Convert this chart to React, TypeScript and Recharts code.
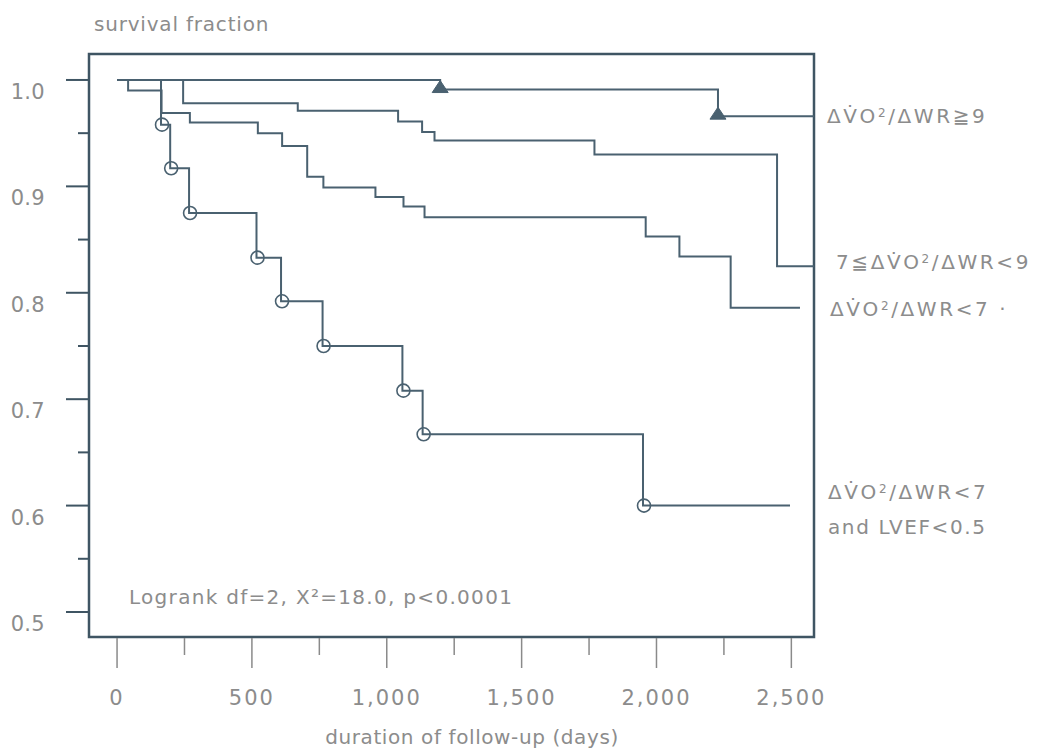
import React from 'react';
import { LineChart, Line, XAxis, YAxis, ReferenceArea, ReferenceDot } from 'recharts';

// Kaplan–Meier survival by ΔVO2/ΔWR group (days of follow-up, survival fraction)
const highDays = [0, 1198, 2228, 2584];
const highSurv = [1.0, 0.991, 0.966, 0.966];

const midDays = [0, 245, 670, 1042, 1131, 1177, 1770, 2447, 2584];
const midSurv = [1.0, 0.978, 0.971, 0.961, 0.951, 0.943, 0.93, 0.825, 0.825];

const lowDays = [0, 41, 165, 270, 522, 612, 705, 765, 958, 1062, 1140, 1960, 2085, 2275, 2532];
const lowSurv = [1.0, 0.99, 0.969, 0.96, 0.95, 0.938, 0.909, 0.899, 0.89, 0.881, 0.871, 0.853, 0.834, 0.786, 0.786];

const lvefDays = [0, 163, 197, 267, 517, 608, 762, 1058, 1133, 1950, 2495];
const lvefSurv = [1.0, 0.958, 0.917, 0.875, 0.833, 0.792, 0.75, 0.708, 0.667, 0.6, 0.6];

const xTicks = [0, 250, 500, 750, 1000, 1250, 1500, 1750, 2000, 2250, 2500];
const xTickLabels: Record<number, string> = { 0: '0', 500: '500', 1000: '1,000', 1500: '1,500', 2000: '2,000', 2500: '2,500' };
const yTicks = [0.5, 0.55, 0.6, 0.65, 0.7, 0.75, 0.8, 0.85, 0.9, 0.95, 1.0];
const yTickLabels = ['0.5', '0.6', '0.7', '0.8', '0.9', '1.0'];

const xDomain: [number, number] = [-104, 2584];
const yDomain: [number, number] = [0.4765, 1.0244];

const LINE = '#4a6170';
const FRAME = '#3f5563';
const TEXT = '#8c8c8c';
const FONT = '"DejaVu Sans", sans-serif';

const toRows = (days: number[], surv: number[]) => days.map((d, i) => ({ d, s: surv[i] }));

const highData = toRows(highDays, highSurv);
const midData = toRows(midDays, midSurv);
const lowData = toRows(lowDays, lowSurv);
const lvefData = toRows(lvefDays, lvefSurv);

const isStep = (data: { s: number }[], i: number) => i > 0 && data[i].s !== data[i - 1].s;

const triangleDot = (props: any) => {
  const { cx, cy, index } = props;
  if (!isStep(highData, index)) return <g key={`t-${index}`} />;
  return (
    <path
      key={`t-${index}`}
      d={`M${cx - 8},${cy + 3} L${cx + 8},${cy + 3} L${cx},${cy - 9} Z`}
      fill={LINE}
      stroke={LINE}
      strokeWidth={1}
    />
  );
};

const circleDot = (props: any) => {
  const { cx, cy, index } = props;
  if (!isStep(lvefData, index)) return <g key={`c-${index}`} />;
  return <circle key={`c-${index}`} cx={cx + 1} cy={cy} r={6.5} fill="none" stroke={LINE} strokeWidth={1.6} />;
};

const XTick = (props: any) => {
  const { x, y, payload } = props;
  const v = payload.value as number;
  const label = xTickLabels[v];
  const major = label !== undefined;
  return (
    <g>
      <line x1={x} y1={y + 1} x2={x} y2={y + (major ? 31 : 18)} stroke="#8a8a8a" strokeWidth={1.5} />
      {major && (
        <text x={x} y={y + 61} textAnchor="middle" dominantBaseline="central" fill={TEXT}
          fontFamily={FONT} fontSize={21} letterSpacing={2}>
          {label}
        </text>
      )}
    </g>
  );
};

const YTick = (props: any) => {
  const { x, y, payload } = props;
  const v = payload.value as number;
  const major = Math.abs(v * 10 - Math.round(v * 10)) < 1e-6;
  const label = major ? yTickLabels[Math.round(v * 10) - 5] : null;
  return (
    <g>
      <line x1={x - (major ? 23 : 11)} y1={y} x2={x} y2={y} stroke={FRAME} strokeWidth={2} />
      {label && (
        <text x={x - 44} y={y + 12} textAnchor="end" dominantBaseline="central" fill={TEXT}
          fontFamily={FONT} fontSize={21} letterSpacing={0.3}>
          {label}
        </text>
      )}
    </g>
  );
};

const XTitle = (props: any) => {
  const { viewBox } = props;
  return (
    <text x={viewBox.x + 383} y={viewBox.y + 100} textAnchor="middle" dominantBaseline="central"
      fill={TEXT} fontFamily={FONT} fontSize={20} letterSpacing={0.6}>
      duration of follow-up (days)
    </text>
  );
};

const YTitle = (props: any) => {
  const { viewBox } = props;
  return (
    <text x={viewBox.x + viewBox.width + 5} y={viewBox.y - 30} textAnchor="start" dominantBaseline="central"
      fill={TEXT} fontFamily={FONT} fontSize={20} letterSpacing={0.8}>
      survival fraction
    </text>
  );
};

// Group name: ΔV̇O2/ΔWR followed by the range condition
const Ratio = () => (
  <>
    <tspan>ΔV̇O</tspan>
    <tspan fontSize={12} dy={-3}>2</tspan>
    <tspan dy={3}>/ΔWR</tspan>
  </>
);

const SeriesLabel = (props: any) => {
  const { viewBox, dx, dy, prefix, suffix, second } = props;
  const x = viewBox.x + dx;
  const y = viewBox.y + dy;
  return (
    <g fill={TEXT} fontFamily={FONT} fontSize={20} letterSpacing={2.6}>
      <text x={x} y={y} dominantBaseline="central">
        {prefix && <tspan>{prefix}</tspan>}
        <Ratio />
        <tspan>{suffix}</tspan>
      </text>
      {second && (
        <text x={x} y={y + 35} dominantBaseline="central" letterSpacing={1.6}>{second}</text>
      )}
    </g>
  );
};

const LogrankLabel = (props: any) => {
  const { viewBox } = props;
  return (
    <text x={viewBox.x} y={viewBox.y} dominantBaseline="central" fill={TEXT}
      fontFamily={FONT} fontSize={20} letterSpacing={1.3}>
      Logrank df=2, X²=18.0, p&lt;0.0001
    </text>
  );
};

export default function App() {
  return (
    <LineChart width={1028} height={743} margin={{ top: 46, right: 222, bottom: 14, left: 0 }}>
      <XAxis
        dataKey="d"
        type="number"
        domain={xDomain}
        allowDataOverflow
        ticks={xTicks}
        interval={0}
        axisLine={false}
        tickLine={false}
        tickSize={0}
        tickMargin={0}
        height={100}
        tick={<XTick />}
        label={<XTitle />}
      />
      <YAxis
        type="number"
        domain={yDomain}
        allowDataOverflow
        ticks={yTicks}
        interval={0}
        axisLine={false}
        tickLine={false}
        tickSize={0}
        tickMargin={0}
        width={81}
        tick={<YTick />}
        label={<YTitle />}
      />
      <ReferenceArea x1={xDomain[0]} x2={xDomain[1]} y1={yDomain[0]} y2={yDomain[1]}
        fill="none" fillOpacity={0} stroke={FRAME} strokeWidth={2.5} ifOverflow="visible" />

      <Line data={lowData} dataKey="s" type="stepAfter" stroke={LINE} strokeWidth={2} dot={false} isAnimationActive={false} />
      <Line data={midData} dataKey="s" type="stepAfter" stroke={LINE} strokeWidth={2} dot={false} isAnimationActive={false} />
      <Line data={lvefData} dataKey="s" type="stepAfter" stroke={LINE} strokeWidth={2} dot={circleDot} isAnimationActive={false} />
      <Line data={highData} dataKey="s" type="stepAfter" stroke={LINE} strokeWidth={2} dot={triangleDot} isAnimationActive={false} />

      <ReferenceDot x={xDomain[1]} y={highSurv[highSurv.length - 1]} r={1} fill="none" stroke="none" ifOverflow="visible"
        label={<SeriesLabel dx={14} dy={1} prefix="" suffix="≧9" />} />
      <ReferenceDot x={xDomain[1]} y={midSurv[midSurv.length - 1]} r={1} fill="none" stroke="none" ifOverflow="visible"
        label={<SeriesLabel dx={23} dy={-3} prefix="7≦" suffix="<9" />} />
      <ReferenceDot x={xDomain[1]} y={lowSurv[lowSurv.length - 1]} r={1} fill="none" stroke="none" ifOverflow="visible"
        label={<SeriesLabel dx={17} dy={2} prefix="" suffix="<7 ·" />} />
      <ReferenceDot x={xDomain[1]} y={lvefSurv[lvefSurv.length - 1]} r={1} fill="none" stroke="none" ifOverflow="visible"
        label={<SeriesLabel dx={15} dy={-13} prefix="" suffix="<7" second="and LVEF<0.5" />} />
      <ReferenceDot x={48} y={0.5132} r={1} fill="none" stroke="none" ifOverflow="visible"
        label={<LogrankLabel />} />
    </LineChart>
  );
}
